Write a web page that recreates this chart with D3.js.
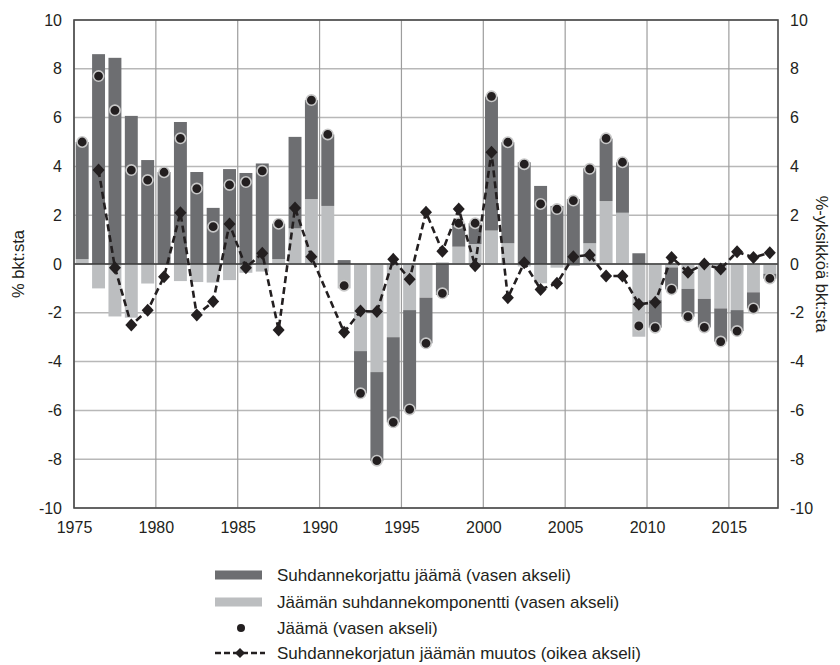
<!DOCTYPE html>
<meta charset="utf-8">
<style>
    body { margin: 0; background: #fff; }
    text { font-family: "Liberation Sans", Arial, sans-serif; fill: #231f20; }
    .tick text { font-size: 16px; }
    .legend text { font-size: 17px; }
    .title { font-size: 16.5px; }
</style>
<svg width="840" height="665"></svg>
<script src="https://d3js.org/d3.v7.min.js"></script>
<script>

    var svg = d3.select("svg"),
        margin = {top: 20, right: 62, bottom: 157, left: 74},
        width = +svg.attr("width") - margin.left - margin.right,
        height = +svg.attr("height") - margin.top - margin.bottom;

    // data, % of GDP
    var years = [1975, 1976, 1977, 1978, 1979, 1980, 1981, 1982, 1983, 1984,
                 1985, 1986, 1987, 1988, 1989, 1990, 1991, 1992, 1993, 1994,
                 1995, 1996, 1997, 1998, 1999, 2000, 2001, 2002, 2003, 2004,
                 2005, 2006, 2007, 2008, 2009, 2010, 2011, 2012, 2013, 2014,
                 2015, 2016, 2017];

    // suhdannekorjattu jäämä
    var adjusted = [4.8, 8.6, 8.45, 6.07, 4.26, 3.77, 5.82, 3.77, 2.3, 3.89,
                    3.73, 4.12, 1.45, 3.75, 4.06, 2.93, 0.16, -1.73, -3.65, -3.49,
                    -4.07, -1.87, -1.27, 0.96, 0.85, 5.49, 4.14, 4.17, 3.2, 2.38,
                    2.66, 3.07, 2.56, 2.07, 0.44, -1.13, -0.9, -1.14, -1.17, -1.36,
                    -0.86, -0.66, -0.2];

    // jäämän suhdannekomponentti
    var cyclical = [0.2, -1.0, -2.15, -2.2, -0.8, 0.0, -0.7, -0.74, -0.76, -0.66,
                    -0.36, -0.31, 0.2, 1.46, 2.66, 2.38, -1.0, -3.57, -4.43, -3.0,
                    -1.89, -1.38, 0.07, 0.71, 0.82, 1.37, 0.85, -0.1, -0.79, -0.15,
                    -0.08, 0.85, 2.58, 2.1, -2.98, -1.48, -0.14, -1.02, -1.43, -1.82,
                    -1.89, -1.16, -0.4];

    // jäämä (null = no marker in the original)
    var balance = [5.0, 7.7, 6.3, 3.85, 3.44, 3.76, 5.15, 3.09, 1.53, 3.24,
                   3.36, 3.82, 1.65, null, 6.72, 5.31, -0.89, -5.3, -8.06, -6.49,
                   -5.96, -3.25, -1.2, 1.67, 1.67, 6.87, 4.99, 4.09, 2.46, 2.25,
                   2.6, 3.9, 5.15, 4.17, -2.54, -2.61, -1.04, -2.16, -2.6, -3.18,
                   -2.75, -1.82, -0.59];

    // suhdannekorjatun jäämän muutos, right axis
    var change = [null, 3.85, -0.15, -2.5, -1.9, -0.52, 2.1, -2.09, -1.54, 1.64,
                  -0.15, 0.44, -2.7, 2.3, 0.3, null, -2.8, -1.93, -1.95, 0.19,
                  -0.63, 2.12, 0.52, 2.25, -0.07, 4.58, -1.38, 0.05, -1.04, -0.79,
                  0.3, 0.37, -0.49, -0.49, -1.65, -1.57, 0.27, -0.34, 0.0, -0.2,
                  0.5, 0.27, 0.46];

    var yTicks = [-10, -8, -6, -4, -2, 0, 2, 4, 6, 8, 10];
    var xTicks = [1975, 1980, 1985, 1990, 1995, 2000, 2005, 2010, 2015];

    var legendLabels = [
        "Suhdannekorjattu jäämä (vasen akseli)",
        "Jäämän suhdannekomponentti (vasen akseli)",
        "Jäämä (vasen akseli)",
        "Suhdannekorjatun jäämän muutos (oikea akseli)"
    ];

    var darkGrey = "#6d6e71",
        lightGrey = "#bcbec0",
        black = "#231f20";

    var rows = years.map(function (y, i) {
        return {year: y, cyc: cyclical[i], ca: adjusted[i], bal: balance[i], chg: change[i]};
    });

    var x = d3.scaleLinear().domain([1975, 2018]).range([0, width]);
    var y = d3.scaleLinear().domain([-10, 10]).range([height, 0]);
    var y2 = d3.scaleLinear().domain([-10, 10]).range([height, 0]);
    var barW = (x(1976) - x(1975)) * 0.79;

    // plain hyphen like the original, not the unicode minus
    var plain = function (d) { return String(d); };

    var g = svg.append("g")
        .attr("transform", "translate(" + margin.left + "," + margin.top + ")");

    // grid
    g.append("g").selectAll("line")
        .data(yTicks)
        .enter().append("line")
        .attr("x1", 0).attr("x2", width)
        .attr("y1", function (d) { return y(d); })
        .attr("y2", function (d) { return y(d); })
        .attr("stroke", "#b8b8b8")
        .attr("stroke-width", 1.5);

    g.append("g").selectAll("line")
        .data(xTicks)
        .enter().append("line")
        .attr("x1", function (d) { return x(d); })
        .attr("x2", function (d) { return x(d); })
        .attr("y1", 0).attr("y2", height)
        .attr("stroke", "#9d9d9d")
        .attr("stroke-width", 1.2);

    // stacked bars, cyclical part from zero first
    var series = d3.stack()
        .keys(["cyc", "ca"])
        .offset(d3.stackOffsetDiverging)(rows);

    var fills = {cyc: lightGrey, ca: darkGrey};

    g.append("g").selectAll("g")
        .data(series)
        .enter().append("g")
        .attr("fill", function (d) { return fills[d.key]; })
        .selectAll("rect")
        .data(function (d) { return d; })
        .enter().append("rect")
        .attr("x", function (d) { return x(d.data.year + 0.5) - barW / 2; })
        .attr("width", barW)
        .attr("y", function (d) { return y(Math.max(d[0], d[1])); })
        .attr("height", function (d) { return Math.abs(y(d[0]) - y(d[1])); });

    // zero line and frame
    g.append("line")
        .attr("x1", 0).attr("x2", width)
        .attr("y1", y(0)).attr("y2", y(0))
        .attr("stroke", "#3a3a3a")
        .attr("stroke-width", 1.3);

    g.append("rect")
        .attr("width", width)
        .attr("height", height)
        .attr("fill", "none")
        .attr("stroke", "#4a4a4a")
        .attr("stroke-width", 1.6);

    // balance dots
    g.append("g").selectAll("circle")
        .data(rows.filter(function (d) { return d.bal != null; }))
        .enter().append("circle")
        .attr("cx", function (d) { return x(d.year + 0.5); })
        .attr("cy", function (d) { return y(d.bal); })
        .attr("r", 5.2)
        .attr("fill", black)
        .attr("stroke", "#c8c8c8")
        .attr("stroke-width", 1.6);

    // change line with diamonds
    var chgRows = rows.filter(function (d) { return d.chg != null; });
    var line = d3.line()
        .x(function (d) { return x(d.year + 0.5); })
        .y(function (d) { return y2(d.chg); });

    g.append("path")
        .datum(chgRows)
        .attr("d", line)
        .attr("fill", "none")
        .attr("stroke", black)
        .attr("stroke-width", 2.6)
        .attr("stroke-dasharray", "7,4");

    var diamond = "M0,-6.5L6,0L0,6.5L-6,0Z";

    g.append("g").selectAll("path")
        .data(chgRows)
        .enter().append("path")
        .attr("d", diamond)
        .attr("transform", function (d) { return "translate(" + x(d.year + 0.5) + "," + y2(d.chg) + ")"; })
        .attr("fill", black);

    // axes
    var left = g.append("g")
        .call(d3.axisLeft(y).tickValues(yTicks).tickFormat(plain).tickSize(0).tickPadding(12));
    var right = g.append("g")
        .attr("transform", "translate(" + width + ",0)")
        .call(d3.axisRight(y2).tickValues(yTicks).tickFormat(plain).tickSize(0).tickPadding(12));
    var bottom = g.append("g")
        .attr("transform", "translate(0," + height + ")")
        .call(d3.axisBottom(x).tickValues(xTicks).tickFormat(plain).tickSize(0).tickPadding(14));
    [left, right, bottom].forEach(function (a) {
        a.select(".domain").remove();
        a.selectAll("text").attr("fill", black).attr("font-family", null).attr("font-size", null);
    });

    svg.append("text")
        .attr("class", "title")
        .attr("transform", "translate(18," + (margin.top + y(0)) + ") rotate(-90)")
        .attr("text-anchor", "middle")
        .attr("dy", "0.35em")
        .text("% bkt:sta");

    svg.append("text")
        .attr("class", "title")
        .attr("transform", "translate(822," + (margin.top + y(0)) + ") rotate(90)")
        .attr("text-anchor", "middle")
        .attr("dy", "0.35em")
        .text("%-yksikköä bkt:sta");

    // legend
    var legend = svg.append("g")
        .attr("class", "legend")
        .attr("transform", "translate(215,575)");

    var rowGap = [0, 27, 53, 78];

    legend.selectAll("text")
        .data(legendLabels)
        .enter().append("text")
        .attr("x", 62)
        .attr("y", function (d, i) { return rowGap[i]; })
        .attr("dy", "0.35em")
        .text(function (d) { return d; });

    legend.append("rect")
        .attr("x", 0).attr("y", rowGap[0] - 4.5)
        .attr("width", 47).attr("height", 9)
        .attr("fill", darkGrey);
    legend.append("rect")
        .attr("x", 0).attr("y", rowGap[1] - 4.5)
        .attr("width", 47).attr("height", 9)
        .attr("fill", lightGrey);
    legend.append("circle")
        .attr("cx", 26).attr("cy", rowGap[2])
        .attr("r", 4)
        .attr("fill", black);
    legend.append("line")
        .attr("x1", 0).attr("x2", 50)
        .attr("y1", rowGap[3]).attr("y2", rowGap[3])
        .attr("stroke", black)
        .attr("stroke-width", 2.4)
        .attr("stroke-dasharray", "6,3");
    legend.append("path")
        .attr("d", "M0,-5L5,0L0,5L-5,0Z")
        .attr("transform", "translate(25," + rowGap[3] + ")")
        .attr("fill", black);

</script>
